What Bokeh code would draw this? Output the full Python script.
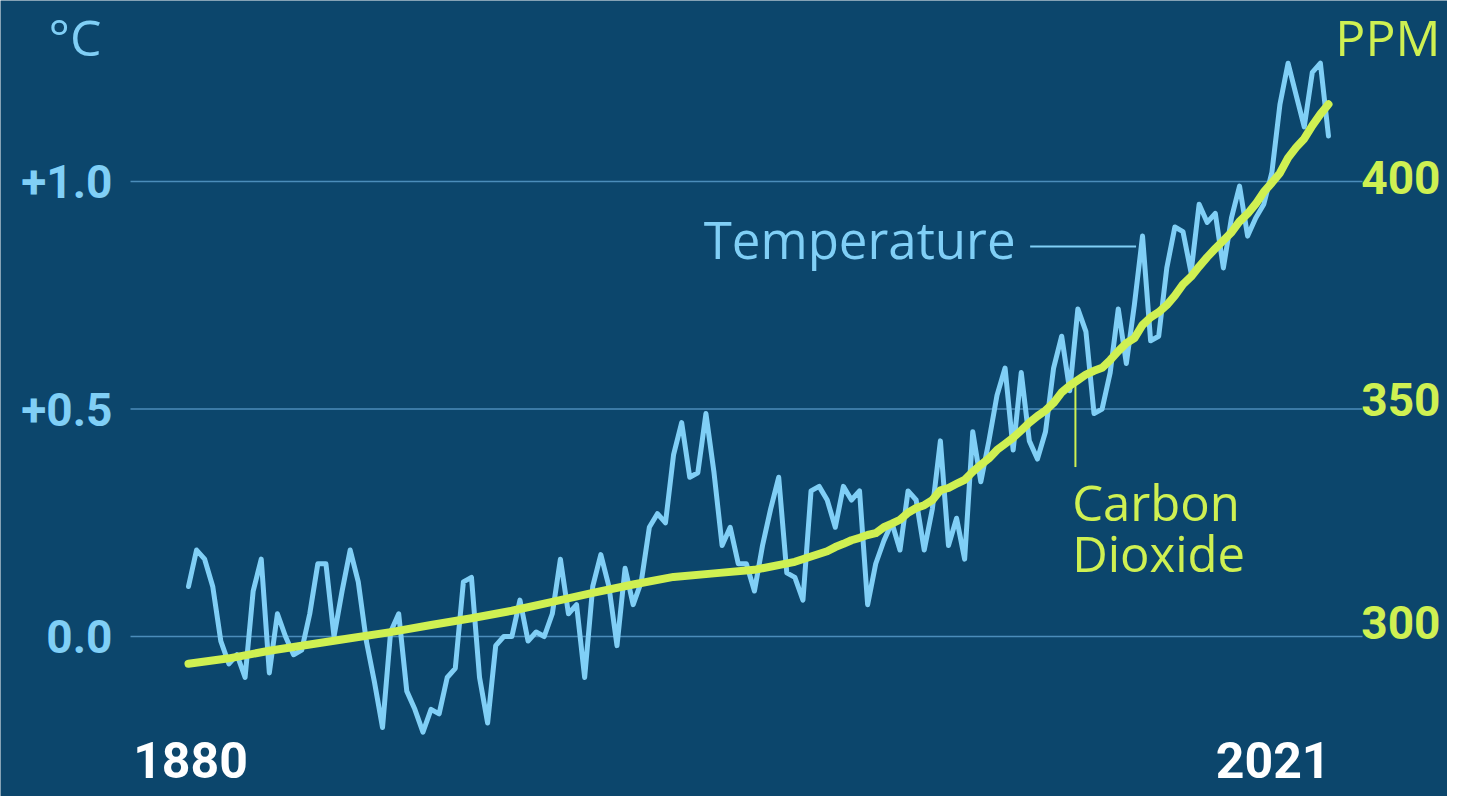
from bokeh.plotting import figure
from bokeh.models import Range1d
from bokeh.core.properties import value
from bokeh.embed import file_html
from bokeh.resources import INLINE

# ---------------- data ----------------
years = list(range(1880, 2022))
temp = [
    0.11, 0.19, 0.17, 0.11, -0.01, -0.06, -0.04, -0.09, 0.10, 0.17,   # 1880s
    -0.08, 0.05, 0.00, -0.04, -0.03, 0.05, 0.16, 0.16, 0.00, 0.10,    # 1890s
    0.19, 0.12, -0.01, -0.10, -0.20, 0.01, 0.05, -0.12, -0.16, -0.21, # 1900s
    -0.16, -0.17, -0.09, -0.07, 0.12, 0.13, -0.09, -0.19, -0.02, 0.00,# 1910s
    0.00, 0.08, -0.01, 0.01, 0.00, 0.05, 0.17, 0.05, 0.07, -0.09,     # 1920s
    0.11, 0.18, 0.11, -0.02, 0.15, 0.07, 0.12, 0.24, 0.27, 0.25,      # 1930s
    0.40, 0.47, 0.35, 0.36, 0.49, 0.36, 0.20, 0.24, 0.16, 0.16,       # 1940s
    0.10, 0.20, 0.28, 0.35, 0.14, 0.13, 0.08, 0.32, 0.33, 0.30,       # 1950s
    0.24, 0.33, 0.30, 0.32, 0.07, 0.16, 0.21, 0.25, 0.19, 0.32,       # 1960s
    0.30, 0.19, 0.28, 0.43, 0.20, 0.26, 0.17, 0.45, 0.34, 0.43,       # 1970s
    0.53, 0.59, 0.41, 0.58, 0.43, 0.39, 0.45, 0.59, 0.66, 0.54,       # 1980s
    0.72, 0.67, 0.49, 0.50, 0.58, 0.72, 0.60, 0.73, 0.88, 0.65,       # 1990s
    0.66, 0.81, 0.90, 0.89, 0.80, 0.95, 0.91, 0.93, 0.81, 0.92,       # 2000s
    0.99, 0.88, 0.92, 0.95, 1.02, 1.17, 1.26, 1.19, 1.12, 1.24,       # 2010s
    1.26, 1.10,                                                       # 2020s
]

co2_years = [1880, 1885, 1890, 1895, 1900, 1905, 1910, 1915, 1920, 1925,
             1930, 1935, 1940, 1945, 1950, 1955] + list(range(1959, 2022))
co2_ppm = [
    290.7, 291.9, 293.6, 295.0, 296.4, 297.8, 299.4, 300.9, 302.6, 304.6,
    306.6, 308.5, 310.2, 311.0, 311.8, 313.6,
    315.98, 316.91, 317.64, 318.45, 318.99, 319.62, 320.04, 321.37, 322.18, 323.05,
    324.62, 325.68, 326.32, 327.46, 329.68, 330.19, 331.13, 332.03, 333.84, 335.41,
    336.84, 338.76, 340.12, 341.48, 343.15, 344.87, 346.35, 347.61, 349.31, 351.69,
    353.20, 354.45, 355.70, 356.54, 357.21, 358.96, 360.97, 362.74, 363.88, 366.84,
    368.54, 369.71, 371.32, 373.45, 375.98, 377.70, 379.98, 382.09, 384.02, 385.83,
    387.64, 390.10, 391.85, 394.06, 396.74, 398.81, 401.01, 404.41, 406.76, 408.72,
    411.66, 414.24, 416.45,
]

temp_ticks = [0.0, 0.5, 1.0]
temp_tick_labels = ["0.0", "+0.5", "+1.0"]
ppm_ticks = [300, 350, 400]
ppm_tick_labels = ["300", "350", "400"]
year_label_years = [1880, 2021]
year_labels = ["1880", "2021"]
temp_unit = "°C"
ppm_unit = "PPM"
temp_name = "Temperature"
co2_name = ["Carbon", "Dioxide"]

# ---------------- style / layout constants ----------------
BG = "#0c466c"
BLUE = "#80cff6"
GREEN = "#cff052"
GRID = "#4b8dba"
NUM_FONT = "Roboto"
TXT_FONT = "Open Sans"
TICK_SIZE = "46px"

GRID_X0, GRID_X1 = 1872.83, 2025.21   # horizontal extent of grid lines (years)
LEFT_LBL_X = 1870.6                   # right edge of left tick labels (years)
RIGHT_LBL_X = 2034.85                 # right edge of right tick labels (years)
YEAR_LBL_Y = -0.272                   # vertical centre of the year labels (deg C)
UNIT_LBL_Y = 1.318                    # vertical centre of the unit labels (deg C)

p = figure(
    width=1447, height=796,
    x_range=Range1d(1856.75, 2035.72),
    y_range=Range1d(-0.3516, 1.3978),
    x_axis_type=None, y_axis_type=None,
    output_backend="svg", toolbar_location=None,
    min_border=0,
    background_fill_color=BG, border_fill_color=BG,
    outline_line_color=None,
)
p.extra_y_ranges = {"ppm": Range1d(260.84, 439.78)}
p.grid.visible = False

# grid lines at the temperature ticks (aligned with the ppm ticks)
p.segment(x0=GRID_X0, x1=GRID_X1, y0=temp_ticks, y1=temp_ticks,
          line_color=GRID, line_width=1.5)

# tick labels
p.text(x=LEFT_LBL_X, y=temp_ticks, text=temp_tick_labels, text_align="right",
       text_baseline="middle", text_font=value(NUM_FONT), text_font_style="bold",
       text_font_size=TICK_SIZE, text_color=BLUE)
p.text(x=RIGHT_LBL_X, y=ppm_ticks, text=ppm_tick_labels, y_range_name="ppm",
       text_align="right", text_baseline="middle", text_font=value(NUM_FONT),
       text_font_style="bold", text_font_size=TICK_SIZE, text_color=GREEN)

# series
p.line(years, temp, line_color=BLUE, line_width=5, line_join="round", line_cap="round")
p.line(co2_years, co2_ppm, y_range_name="ppm", line_color=GREEN, line_width=8,
       line_join="round", line_cap="round")

# series names with leader lines
p.segment(x0=[1984.1], y0=[0.857], x1=[1997.2], y1=[0.857], line_color=BLUE, line_width=2)
p.text(x=[1982.3], y=[0.874], text=[temp_name], text_align="right", text_baseline="middle",
       text_font=value(TXT_FONT), text_font_size="51px", text_color=BLUE)

p.segment(x0=[1989.7], y0=[353.6], x1=[1989.7], y1=[334.9], y_range_name="ppm",
          line_color=GREEN, line_width=2)
p.text(x=[1989.3, 1989.3], y=[327.1, 315.6], text=co2_name, y_range_name="ppm",
       text_align="left", text_baseline="middle",
       text_font=value(TXT_FONT), text_font_size="49px", text_color=GREEN)

# year labels
p.text(x=[year_label_years[0] + 0.25], y=[YEAR_LBL_Y], text=[year_labels[0]], text_align="center",
       text_baseline="middle", text_font=value(NUM_FONT), text_font_style="bold",
       text_font_size="50px", text_color="white")
p.text(x=[year_label_years[1] + 0.25], y=[YEAR_LBL_Y], text=[year_labels[1]], text_align="right",
       text_baseline="middle", text_font=value(NUM_FONT), text_font_style="bold",
       text_font_size="50px", text_color="white")

# unit labels
p.text(x=[1862.7], y=[UNIT_LBL_Y], text=[temp_unit], text_align="left", text_baseline="middle",
       text_font=value(TXT_FONT), text_font_size="50px", text_color=BLUE)
p.text(x=[2034.85], y=[UNIT_LBL_Y], text=[ppm_unit], text_align="right", text_baseline="middle",
       text_font=value(TXT_FONT), text_font_size="50px", text_color=GREEN)

open("out.html", "w").write(file_html(p, INLINE))
